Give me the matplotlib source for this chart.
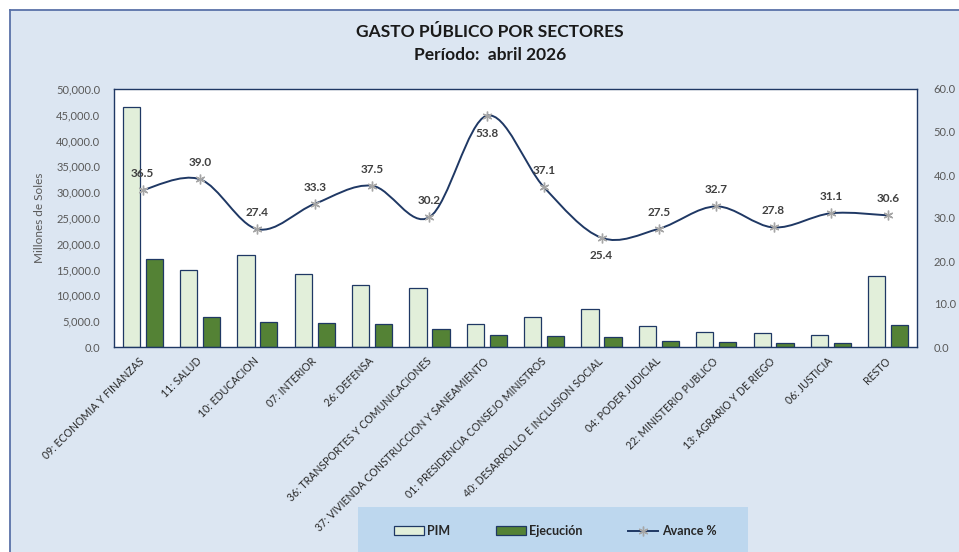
import matplotlib
matplotlib.use("Agg")
import matplotlib.pyplot as plt
from matplotlib.patches import Rectangle, PathPatch, Patch
from matplotlib.path import Path
from matplotlib.lines import Line2D
from matplotlib.ticker import FuncFormatter
import numpy as np

plt.rcParams['font.family'] = ['Lato', 'DejaVu Sans']

categories = ["09: ECONOMIA Y FINANZAS", "11: SALUD", "10: EDUCACION", "07: INTERIOR",
              "26: DEFENSA", "36: TRANSPORTES Y COMUNICACIONES",
              "37: VIVIENDA CONSTRUCCION Y SANEAMIENTO", "01: PRESIDENCIA CONSEJO MINISTROS",
              "40: DESARROLLO E INCLUSION SOCIAL", "04: PODER JUDICIAL",
              "22: MINISTERIO PUBLICO", "13: AGRARIO Y DE RIEGO", "06: JUSTICIA", "RESTO"]
pim = [46600, 14900, 17800, 14100, 12000, 11500, 4400, 5900, 7400, 4000, 2900, 2700, 2300, 13700]
ejecucion = [17000, 5800, 4850, 4700, 4500, 3450, 2350, 2200, 1900, 1100, 950, 750, 720, 4200]
avance = [36.5, 39.0, 27.4, 33.3, 37.5, 30.2, 53.8, 37.1, 25.4, 27.5, 32.7, 27.8, 31.1, 30.6]
label_below = [False, False, False, False, False, False, True, False, True, False, False, False, False, False]

title1 = "GASTO PÚBLICO POR SECTORES"
title2 = "Período:  abril 2026"

W, H = 959, 552
fig = plt.figure(figsize=(W / 100, H / 100), dpi=100)
fig.patch.set_facecolor('white')

def fx(px):
    return px / W

def fy(py):
    return 1 - py / H

# chart background
bg = Rectangle((fx(10), 0), 1 - fx(10), fy(10), transform=fig.transFigure,
               facecolor='#dce6f2', edgecolor='none', zorder=-10)
fig.patches.append(bg)
fig.add_artist(Line2D([fx(10), fx(10)], [0, fy(10)], transform=fig.transFigure,
                      color='#5a72a8', lw=1.3, zorder=-5))
fig.add_artist(Line2D([fx(10), 1], [fy(10), fy(10)], transform=fig.transFigure,
                      color='#5a72a8', lw=1.3, zorder=-5))

ax = fig.add_axes([fx(114), fy(347), fx(917) - fx(114), fy(89) - fy(347)])
ax.set_facecolor('white')
x = np.arange(len(categories))
bw = 0.3
navy = '#1f3864'
ax.bar(x - 0.2, pim, width=bw, color='#e2efda', edgecolor=navy, linewidth=0.9, zorder=2)
ax.bar(x + 0.2, ejecucion, width=bw, color='#548235', edgecolor=navy, linewidth=0.9, zorder=2)
ax.set_xlim(-0.5, len(categories) - 0.5)
ax.set_ylim(0, 50000)
ax.set_yticks(np.arange(0, 50001, 5000))
ax.yaxis.set_major_formatter(FuncFormatter(lambda v, p: f"{v:,.1f}"))
ax.tick_params(axis='y', length=0, labelsize=8, labelcolor='#595959', pad=10)
ax.set_xticks(x)
ax.set_xticklabels(categories, rotation=45, ha='right', va='center',
                   rotation_mode='anchor', fontsize=7.6, color='#262626')
ax.tick_params(axis='x', length=0, pad=9)
ax.set_ylabel("Millones de Soles", fontsize=8.5, color='#595959', labelpad=8)
for s in ax.spines.values():
    s.set_color(navy)
    s.set_linewidth(1.0)

ax2 = ax.twinx()
ax2.set_ylim(0, 60)
ax2.set_yticks(np.arange(0, 61, 10))
ax2.yaxis.set_major_formatter(FuncFormatter(lambda v, p: f"{v:.1f}"))
ax2.tick_params(axis='y', length=0, labelsize=8, labelcolor='#595959', pad=12)
for s in ax2.spines.values():
    s.set_visible(False)

# smoothed line (Excel-style Bezier through the points)
pts = np.column_stack([x, avance]).astype(float)
n = len(pts)
verts = [tuple(pts[0])]
codes = [Path.MOVETO]
for i in range(n - 1):
    p0 = pts[i - 1] if i > 0 else pts[i]
    p1 = pts[i]
    p2 = pts[i + 1]
    p3 = pts[i + 2] if i + 2 < n else pts[i + 1]
    c1 = p1 + (p2 - p0) / 6.0
    c2 = p2 - (p3 - p1) / 6.0
    verts += [tuple(c1), tuple(c2), tuple(p2)]
    codes += [Path.CURVE4] * 3
ax2.add_patch(PathPatch(Path(verts, codes), facecolor='none', edgecolor=navy,
                        linewidth=1.4, zorder=3))
ax2.plot(x, avance, linestyle='none', marker=(6, 2, 0), markersize=7,
         markeredgecolor='#a6a6a6', markeredgewidth=1.0, zorder=4)
for xi, v, below in zip(x, avance, label_below):
    ax2.annotate(f"{v:.1f}", (xi, v), xytext=(0, -13 if below else 12),
                 textcoords='offset points', ha='center', va='center',
                 fontsize=8.5, fontweight='bold', color='#404040', zorder=5)

# titles
fig.text(fx(490), fy(32), title1, ha='center', va='center', fontsize=12.5,
         fontweight='bold', color='#1a1a1a')
fig.text(fx(490), fy(55), title2, ha='center', va='center', fontsize=12.5,
         fontweight='bold', color='#1a1a1a')

# legend
leg_bg = Rectangle((fx(358), 0), fx(748) - fx(358), fy(507), transform=fig.transFigure,
                   facecolor='#bdd7ee', edgecolor='none', zorder=-5)
fig.patches.append(leg_bg)
handles = [Patch(facecolor='#e2efda', edgecolor=navy, linewidth=0.9),
           Patch(facecolor='#548235', edgecolor=navy, linewidth=0.9),
           Line2D([], [], color=navy, lw=1.4, marker=(6, 2, 0), markersize=7,
                  markeredgecolor='#a6a6a6')]
leg = fig.legend(handles, ["PIM", "Ejecución", "Avance %"], loc='center',
                 bbox_to_anchor=(fx(555), fy(531)), ncol=3, frameon=False,
                 fontsize=9, handlelength=2.4, handleheight=0.7, columnspacing=3.6,
                 handletextpad=0.3)
for t in leg.get_texts():
    t.set_fontweight('bold')
    t.set_color('#262626')

fig.savefig("out.png", dpi=100, facecolor=fig.get_facecolor())
